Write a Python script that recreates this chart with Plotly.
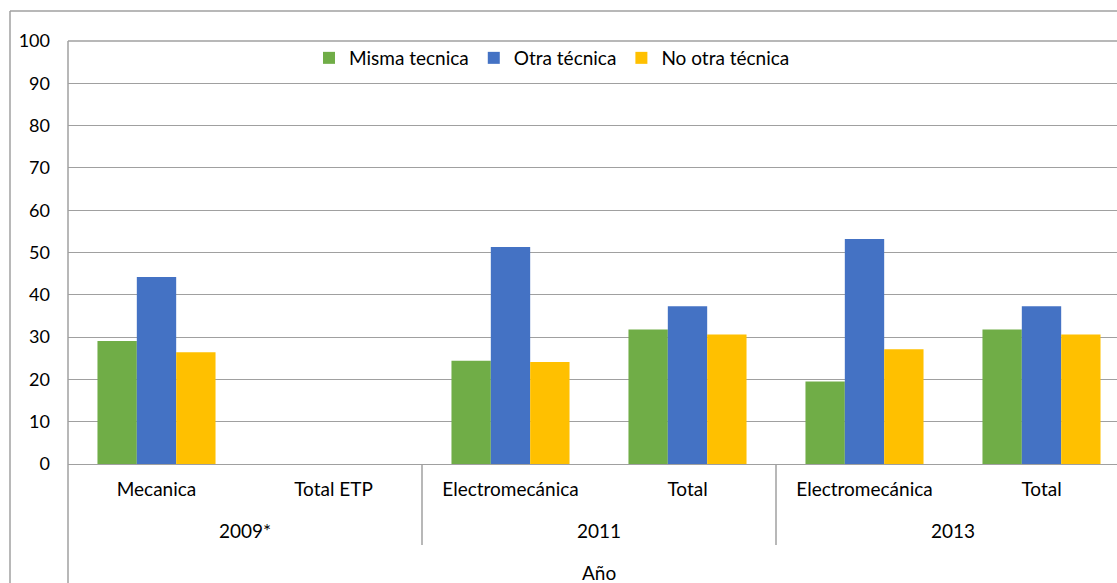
import plotly.graph_objects as go

# Data
categories = ["Mecanica", "Total ETP", "Electromecánica", "Total", "Electromecánica", "Total"]
years = ["2009*", "2011", "2013"]
misma_tecnica = [29.1, None, 24.4, 31.8, 19.5, 31.8]
otra_tecnica = [44.2, None, 51.3, 37.3, 53.2, 37.3]
no_otra_tecnica = [26.4, None, 24.1, 30.6, 27.1, 30.6]
series_names = ["Misma tecnica", "Otra técnica", "No otra técnica"]
colors = ["#70AD47", "#4472C4", "#FFC000"]
y_ticks = list(range(0, 101, 10))
x_title = "Año"

W, H = 1117, 583
L, R, T, B = 68, 0, 41, 119
pw, ph = W - L - R, H - T - B

idx = list(range(len(categories)))
cat_px = 177.0
x_end = -0.5 + pw / cat_px

def py(pix):  # pixel y -> paper y
    return (H - B - pix) / ph

def px(pix):  # pixel x -> paper x
    return (pix - L) / pw

fig = go.Figure()
for name, vals, c in zip(series_names, [misma_tecnica, otra_tecnica, no_otra_tecnica], colors):
    fig.add_trace(go.Bar(x=idx, y=vals, name=name, marker=dict(color=c, line=dict(width=0))))

font = "Lato, 'Open Sans', sans-serif"
fig.update_layout(
    width=W, height=H,
    margin=dict(l=L, r=R, t=T, b=B, pad=0),
    paper_bgcolor="white", plot_bgcolor="white",
    barmode="group", bargap=0.333, bargroupgap=0,
    font=dict(family=font, size=20, color="#000000"),
    legend=dict(orientation="h", x=px(552), xanchor="center", y=py(58), yanchor="middle",
                font=dict(size=19), bgcolor="rgba(0,0,0,0)", itemwidth=30),
    xaxis=dict(range=[-0.5, x_end], tickmode="array", tickvals=idx, ticktext=categories,
               showgrid=False, zeroline=False, showline=True, linecolor="#A0A0A0", linewidth=1,
               ticks="", tickfont=dict(size=19), ticklabelstandoff=8, fixedrange=True),
    yaxis=dict(range=[0, 100], tickmode="array", tickvals=y_ticks, showgrid=True,
               gridcolor="#A0A0A0", gridwidth=1, zeroline=False, showline=False,
               ticks="", tickfont=dict(size=18), ticklabelstandoff=17, fixedrange=True),
)

# year group labels
for i, yr in enumerate(years):
    fig.add_annotation(x=2 * i + 0.5, y=py(530), xref="x", yref="paper", text=yr,
                       showarrow=False, font=dict(size=19), yanchor="middle")
fig.add_annotation(x=(len(categories) - 1) / 2, y=py(572), xref="x", yref="paper", text=x_title,
                   showarrow=False, font=dict(size=19), yanchor="middle")

# group dividers
for i in range(1, len(years)):
    xd = 2 * i - 0.5
    fig.add_shape(type="line", xref="x", yref="paper", x0=xd, x1=xd, y0=0, y1=py(545),
                  line=dict(color="#A0A0A0", width=1.5))
# left axis line extended
fig.add_shape(type="line", xref="paper", yref="paper", x0=0, x1=0, y0=1, y1=py(H + 5),
              line=dict(color="#A0A0A0", width=1.5))
# top border of plot
fig.add_shape(type="line", xref="paper", yref="paper", x0=0, x1=1.05, y0=1, y1=1,
              line=dict(color="#A0A0A0", width=1.5))
# outer chart border
fig.add_shape(type="line", xref="paper", yref="paper", x0=px(10), x1=px(10), y0=py(11), y1=py(H + 5),
              line=dict(color="#A0A0A0", width=1.5))
fig.add_shape(type="line", xref="paper", yref="paper", x0=px(10), x1=px(W + 5), y0=py(11), y1=py(11),
              line=dict(color="#A0A0A0", width=1.5))

fig.write_html("out.html", config={"displayModeBar": False},
               post_script="document.body.style.margin='0';document.body.style.overflow='hidden';")
